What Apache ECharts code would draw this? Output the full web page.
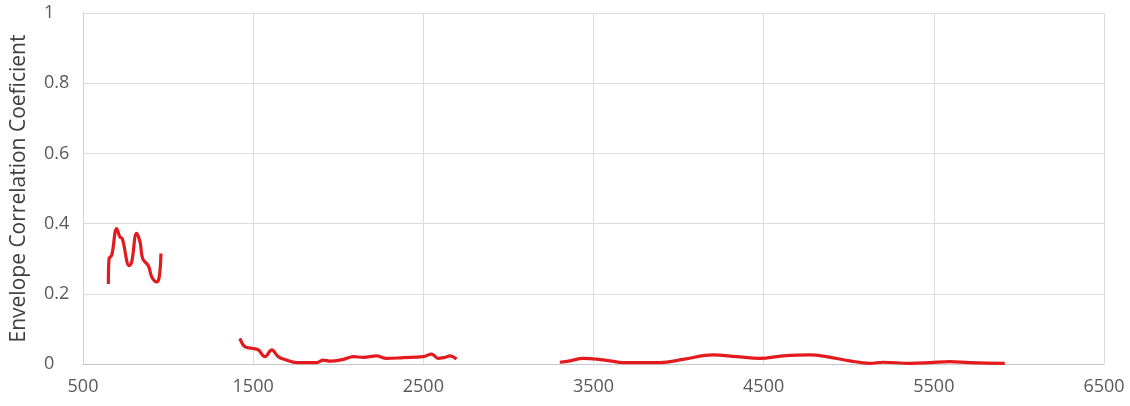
<!DOCTYPE html>
<html><head><meta charset="utf-8">
<script src="https://cdn.jsdelivr.net/npm/echarts@6/dist/echarts.min.js"></script>
<style>html,body{margin:0;padding:0;background:#fff}#c{width:1130px;height:406px}</style>
</head><body><div id="c"></div>
<script>
// Segment 1 (frequency, coefficient)
const seg1X = [649, 653, 669, 698, 717, 731, 772, 786, 815, 835, 851, 884, 904, 933, 948, 958];
const seg1Y = [0.228, 0.30, 0.31, 0.386, 0.362, 0.357, 0.28, 0.29, 0.372, 0.348, 0.30, 0.28, 0.248, 0.234, 0.248, 0.315];
// Segment 2
const seg2X = [1422, 1452, 1491, 1530, 1569, 1609, 1647, 1697, 1755, 1873, 1912, 1951, 2029, 2088, 2147, 2225, 2284, 2382, 2499, 2549, 2587, 2627, 2656, 2695];
const seg2Y = [0.073, 0.049, 0.045, 0.040, 0.021, 0.040, 0.021, 0.011, 0.004, 0.004, 0.011, 0.008, 0.013, 0.021, 0.019, 0.023, 0.016, 0.018, 0.021, 0.028, 0.016, 0.019, 0.023, 0.014];
// Segment 3
const seg3X = [3302, 3361, 3439, 3518, 3596, 3674, 3890, 4027, 4203, 4340, 4477, 4614, 4771, 4869, 5006, 5124, 5202, 5359, 5476, 5594, 5711, 5917];
const seg3Y = [0.005, 0.009, 0.016, 0.014, 0.009, 0.004, 0.004, 0.013, 0.026, 0.021, 0.016, 0.023, 0.026, 0.021, 0.009, 0.002, 0.005, 0.002, 0.004, 0.007, 0.004, 0.002];
const xTicks = [500, 1500, 2500, 3500, 4500, 5500, 6500];
const yTitle = 'Envelope Correlation Coeficient';

const pairs = (xs, ys) => xs.map((x, i) => [x, ys[i]]);
const font = 'Open Sans, Noto Sans, sans-serif';
const lineSeries = (d) => ({
  type: 'line', data: d, smooth: 0.4, showSymbol: false, symbol: 'none',
  lineStyle: { color: '#e31b1f', width: 3.2 }, itemStyle: { color: '#e31b1f' }
});
const chart = echarts.init(document.getElementById('c'), null, { renderer: 'canvas' });
chart.setOption({
  animation: false,
  backgroundColor: '#fff',
  grid: { left: 83, right: 26, top: 13, bottom: 42, containLabel: false, outerBoundsMode: 'none' },
  xAxis: {
    type: 'value', min: xTicks[0], max: xTicks[xTicks.length - 1], interval: 1000,
    axisLine: { show: true, lineStyle: { color: '#c8c8c8', width: 1 } },
    axisTick: { show: false },
    splitLine: { show: true, lineStyle: { color: '#dcdcdc', width: 1 } },
    axisLabel: { color: '#595959', fontSize: 18, fontFamily: font, margin: 14, formatter: v => String(v) }
  },
  yAxis: {
    type: 'value', min: 0, max: 1, interval: 0.2,
    name: yTitle, nameLocation: 'middle', nameGap: 53, nameRotate: 90,
    nameTextStyle: { color: '#404040', fontSize: 21, fontFamily: font },
    axisLine: { show: true, lineStyle: { color: '#d0d0d0', width: 1 } },
    axisTick: { show: false },
    splitLine: { show: true, lineStyle: { color: '#dcdcdc', width: 1 } },
    axisLabel: { color: '#595959', fontSize: 18, fontFamily: font, margin: 39, align: 'left', formatter: v => String(v) }
  },
  series: [
    lineSeries(pairs(seg1X, seg1Y)),
    lineSeries(pairs(seg2X, seg2Y)),
    lineSeries(pairs(seg3X, seg3Y))
  ]
});
</script></body></html>
